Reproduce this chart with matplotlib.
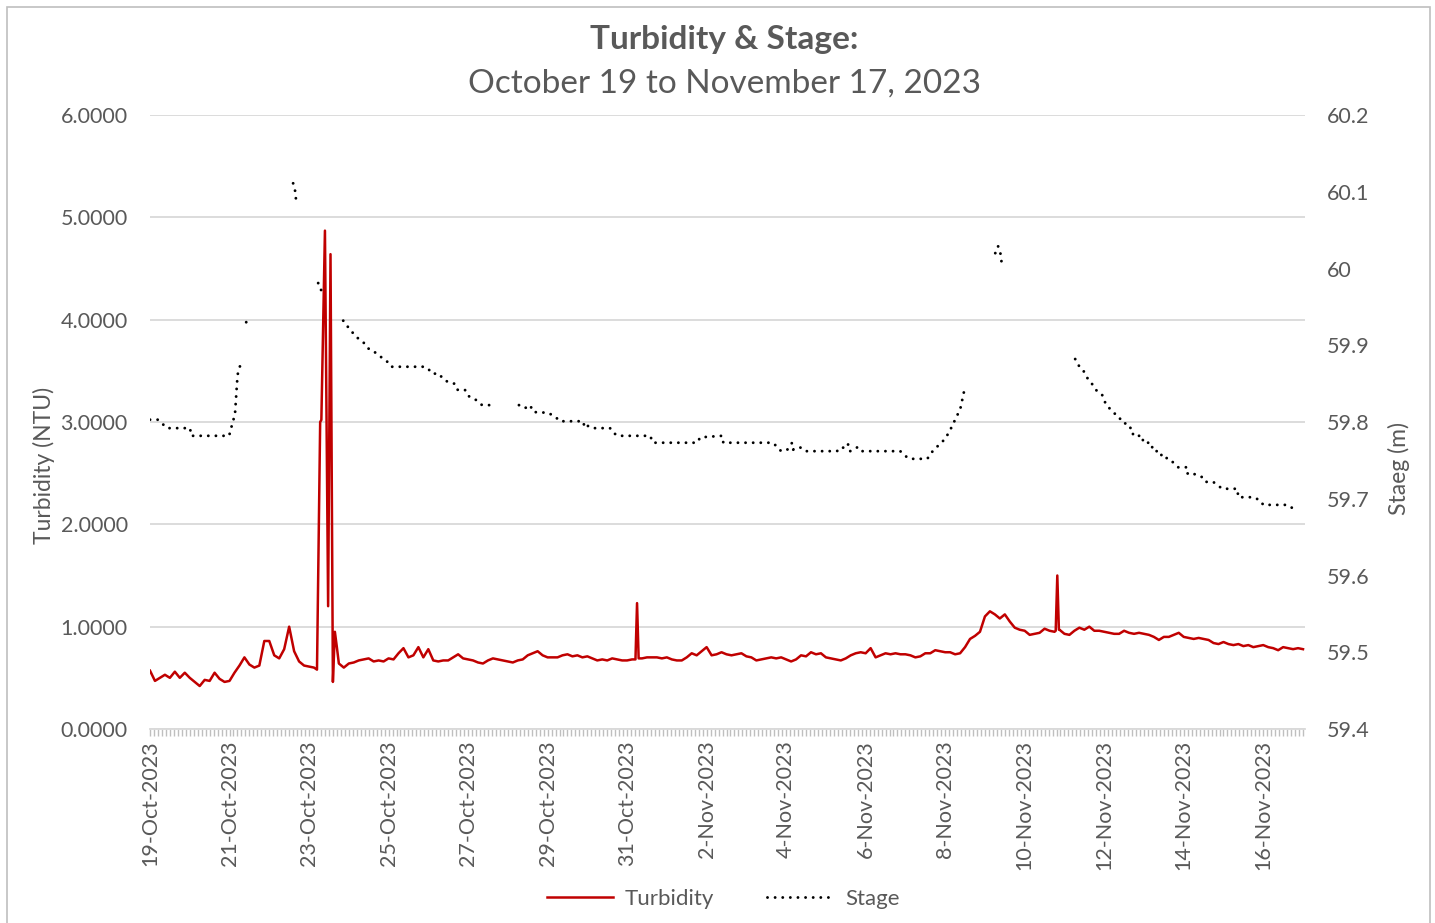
import numpy as np
import pandas as pd
import matplotlib
matplotlib.use("Agg")
import matplotlib.pyplot as plt
import matplotlib.dates as mdates
from matplotlib.ticker import FuncFormatter, FixedLocator
from matplotlib.patches import Rectangle

plt.rcParams['font.family'] = ['Lato', 'DejaVu Sans']
GRAY = '#595959'

start = pd.Timestamp('2023-10-19')

# turbidity (NTU), read every 3 hours from 19-Oct 00:00 (nan = replaced by the spike points below)
turb_3h = [
    0.57, 0.47, 0.50, 0.53, 0.50, 0.56, 0.50, 0.55,   # 19-Oct
    0.50, 0.46, 0.42, 0.48, 0.47, 0.55, 0.49, 0.46,   # 20-Oct
    0.47, 0.55, 0.62, 0.70, 0.63, 0.60, 0.62, 0.86,   # 21-Oct
    0.86, 0.72, 0.69, 0.78, 1.00, 0.76, 0.66, 0.62,   # 22-Oct
    0.61, 0.60, np.nan, np.nan, np.nan, np.nan, 0.64, 0.60,   # 23-Oct
    0.64, 0.65, 0.67, 0.68, 0.69, 0.66, 0.67, 0.66,   # 24-Oct
    0.69, 0.68, 0.74, 0.79, 0.70, 0.72, 0.80, 0.70,   # 25-Oct
    0.78, 0.67, 0.66, 0.67, 0.67, 0.70, 0.73, 0.69,   # 26-Oct
    0.68, 0.67, 0.65, 0.64, 0.67, 0.69, 0.68, 0.67,   # 27-Oct
    0.66, 0.65, 0.67, 0.68, 0.72, 0.74, 0.76, 0.72,   # 28-Oct
    0.70, 0.70, 0.70, 0.72, 0.73, 0.71, 0.72, 0.70,   # 29-Oct
    0.71, 0.69, 0.67, 0.68, 0.67, 0.69, 0.68, 0.67,   # 30-Oct
    0.67, 0.68, np.nan, 0.69, 0.70, 0.70, 0.70, 0.69, # 31-Oct
    0.70, 0.68, 0.67, 0.67, 0.70, 0.74, 0.72, 0.76,   # 1-Nov
    0.80, 0.72, 0.73, 0.75, 0.73, 0.72, 0.73, 0.74,   # 2-Nov
    0.71, 0.70, 0.67, 0.68, 0.69, 0.70, 0.69, 0.70,   # 3-Nov
    0.68, 0.66, 0.68, 0.72, 0.71, 0.75, 0.73, 0.74,   # 4-Nov
    0.70, 0.69, 0.68, 0.67, 0.69, 0.72, 0.74, 0.75,   # 5-Nov
    0.74, 0.79, 0.70, 0.72, 0.74, 0.73, 0.74, 0.73,   # 6-Nov
    0.73, 0.72, 0.70, 0.71, 0.74, 0.74, 0.77, 0.76,   # 7-Nov
    0.75, 0.75, 0.73, 0.74, 0.80, 0.88, 0.91, 0.95,   # 8-Nov
    1.10, 1.15, 1.12, 1.08, 1.12, 1.05, 0.99, 0.97,   # 9-Nov
    0.96, 0.92, 0.93, 0.94, 0.98, 0.96, 0.95, 0.97,   # 10-Nov
    0.93, 0.92, 0.96, 0.99, 0.97, 1.00, 0.96, 0.96,   # 11-Nov
    0.95, 0.94, 0.93, 0.93, 0.96, 0.94, 0.93, 0.94,   # 12-Nov
    0.93, 0.92, 0.90, 0.87, 0.90, 0.90, 0.92, 0.94,   # 13-Nov
    0.90, 0.89, 0.88, 0.89, 0.88, 0.87, 0.84, 0.83,   # 14-Nov
    0.85, 0.83, 0.82, 0.83, 0.81, 0.82, 0.80, 0.81,   # 15-Nov
    0.82, 0.80, 0.79, 0.77, 0.80, 0.79, 0.78, 0.79,   # 16-Nov
    0.78,
]
# short turbidity spikes (days after 19-Oct 00:00, NTU)
spike_days = [4.20, 4.28, 4.31, 4.40, 4.48, 4.54, 4.60, 4.65, 4.70,
              12.21, 12.25, 12.29, 22.78, 22.82, 22.86]
spike_vals = [0.58, 3.00, 3.02, 4.87, 1.20, 4.64, 0.46, 0.95, 0.80,
              0.68, 1.23, 0.69, 0.96, 1.50, 0.97]

# stage (m), nan marks gaps in the record
stage_days = [0.00, 0.20, 0.43, 1.01, 1.03, 1.99, 2.04, 2.09, 2.14, 2.19, 2.21, 2.26, 2.29, np.nan,
              2.42, 2.44, np.nan,
              3.60, 3.65, 3.67, np.nan,
              4.23, 4.28, 4.40, np.nan,
              4.86, 4.96, 5.06, 5.16, 5.26, 5.38, 5.48, 5.61, 5.74, 5.86, 5.96, 6.06, 6.87, 6.99,
              7.09, 7.27, 7.37, 7.50, 7.65, 7.72, 7.92, 8.00, 8.13, 8.25, 8.35, 8.55, np.nan,
              9.28, 9.43, 9.56, 9.64, 10.01, 10.19, 10.31, 10.89, 10.94, 11.02, 11.14, 11.57,
              11.65, 11.77, 12.58, 12.65, 13.76, 13.84, 14.39, 14.42, 15.65, 15.80, 15.87,
              16.03, 16.15, 16.18, 16.35, 16.48, 17.28, 17.36, 17.53, 17.56, 17.61, 17.79,
              17.86, 18.87, 19.04, 19.12, 19.55, 19.67, 19.82, 20.00, 20.13, 20.25, 20.38,
              20.45, 20.50, np.nan,
              21.26, 21.33, 21.38, 21.41, 21.43, np.nan,
              23.27, 23.35, 23.45, 23.52, 23.60, 23.72, 23.82, 23.95, 24.05, 24.15, 24.25,
              24.35, 24.48, 24.58, 24.70, 24.73, 24.96, 24.98, 25.18, 25.23, 25.41, 25.46,
              25.61, 25.74, 25.86, 26.09, 26.10, 26.29, 26.47, 26.54, 26.74, 26.87, 26.97,
              27.35, 27.37, 27.75, 27.92, 28.00, 28.60, 28.73, 28.81]
stage_vals = [59.803, 59.803, 59.792, 59.792, 59.782, 59.782, 59.792, 59.801, 59.812, 59.852, 59.863, 59.872, 59.882, np.nan,
              59.930, 59.933, np.nan,
              60.111, 60.101, 60.091, np.nan,
              59.981, 59.973, 59.968, np.nan,
              59.932, 59.925, 59.919, 59.912, 59.908, 59.903, 59.896, 59.893, 59.887, 59.883, 59.879, 59.872, 59.872, 59.870,
              59.863, 59.863, 59.856, 59.852, 59.850, 59.842, 59.842, 59.834, 59.831, 59.827, 59.822, 59.822, np.nan,
              59.822, 59.818, 59.822, 59.813, 59.812, 59.807, 59.801, 59.801, 59.792, 59.795, 59.792, 59.792,
              59.786, 59.782, 59.782, 59.773, 59.773, 59.780, 59.782, 59.773, 59.773, 59.767, 59.762,
              59.764, 59.773, 59.764, 59.767, 59.762, 59.762, 59.767, 59.766, 59.771, 59.762, 59.767,
              59.762, 59.762, 59.754, 59.752, 59.752, 59.761, 59.769, 59.778, 59.790, 59.803, 59.817,
              59.834, 59.846, np.nan,
              60.020, 60.029, 60.023, 60.012, 60.002, np.nan,
              59.882, 59.874, 59.869, 59.863, 59.855, 59.848, 59.840, 59.835, 59.822, 59.817, 59.812,
              59.805, 59.803, 59.793, 59.792, 59.782, 59.782, 59.773, 59.773, 59.762, 59.762, 59.753,
              59.753, 59.747, 59.741, 59.741, 59.732, 59.732, 59.728, 59.722, 59.722, 59.717, 59.713,
              59.713, 59.702, 59.702, 59.698, 59.692, 59.692, 59.688, 59.681]

# merge regular turbidity readings with spike points
grid_days = np.arange(len(turb_3h)) * 0.125
turb = pd.Series(list(turb_3h) + spike_vals, index=list(grid_days) + spike_days).dropna().sort_index()
turb_t = start + pd.to_timedelta(turb.index.values, unit='D')
stage_t = start + pd.to_timedelta(np.array(stage_days), unit='D')

fig = plt.figure(figsize=(14.35, 9.23), dpi=100)
ax = fig.add_axes([150 / 1435, 1 - 729 / 923, 1155 / 1435, 614 / 923])
ax2 = ax.twinx()

ln1, = ax.plot(turb_t, turb.values, color='#C00000', lw=1.8, label='Turbidity', zorder=3)
ln2, = ax2.plot(stage_t, stage_vals, color='black', lw=2.1, linestyle=(0, (0.01, 2.6)),
                dash_capstyle='round', label='Stage')

ax.set_ylim(0, 6)
ax.set_yticks(np.arange(0, 7, 1))
ax.yaxis.set_major_formatter(FuncFormatter(lambda v, p: f'{v:.4f}'))
ax.grid(axis='y', color='#D9D9D9', lw=1.3)
ax.set_axisbelow(True)

ax2.set_ylim(59.4, 60.2)
stage_ticks = [59.4, 59.5, 59.6, 59.7, 59.8, 59.9, 60.0, 60.1, 60.2]
ax2.yaxis.set_major_locator(FixedLocator(stage_ticks))
ax2.yaxis.set_major_formatter(FuncFormatter(lambda v, p: f'{v:g}'))

ax.set_xlim(start, start + pd.Timedelta(days=29.05))
major = pd.date_range('2023-10-19', '2023-11-16', freq='2D')
ax.xaxis.set_major_locator(FixedLocator(mdates.date2num(major)))
ax.xaxis.set_minor_locator(FixedLocator(mdates.date2num(start + pd.to_timedelta(np.arange(0, 29.05, 0.1), unit='D'))))


def fmt_date(v, p):
    d = mdates.num2date(v)
    return f"{d.day}-{d.strftime('%b-%Y')}"


ax.xaxis.set_major_formatter(FuncFormatter(fmt_date))

for a in (ax, ax2):
    for s in a.spines.values():
        s.set_visible(False)
ax.spines['bottom'].set_visible(True)
ax.spines['bottom'].set_color('#D9D9D9')
ax.spines['bottom'].set_linewidth(1.3)

ax.tick_params(axis='x', which='both', length=5, width=1, color='#BFBFBF', labelsize=15.5,
               labelcolor=GRAY, pad=3, labelrotation=90)
ax.tick_params(axis='y', length=0, labelsize=15.5, labelcolor=GRAY, pad=16)
ax2.tick_params(axis='y', length=0, labelsize=15.5, labelcolor=GRAY, pad=16)

ax.set_ylabel('Turbidity (NTU)', fontsize=16.5, color=GRAY)
ax.yaxis.set_label_coords(-95 / 1155, 0.43)
ax2.set_ylabel('Staeg (m)', fontsize=16.5, color=GRAY, rotation=90)
ax2.yaxis.set_label_coords(1 + 83 / 1155, 0.425)

fig.text(724 / 1435, 1 - 40 / 923, 'Turbidity & Stage:', ha='center', va='center',
         fontsize=24, fontweight='bold', color=GRAY)
fig.text(724 / 1435, 1 - 84 / 923, 'October 19 to November 17, 2023', ha='center', va='center',
         fontsize=24, color=GRAY)

fig.legend(handles=[ln1, ln2], loc='center', bbox_to_anchor=(723 / 1435, 1 - 899 / 923), ncol=2,
           frameon=False, fontsize=16, labelcolor=GRAY, handlelength=3.0, columnspacing=2.4,
           handletextpad=0.5)

fig.patches.append(Rectangle((7 / 1435, -0.01), 1423 / 1435, 1 - 7 / 923 + 0.01,
                             transform=fig.transFigure, fill=False, edgecolor='#BFBFBF', lw=1.2))

fig.savefig('out.png', dpi=100)
